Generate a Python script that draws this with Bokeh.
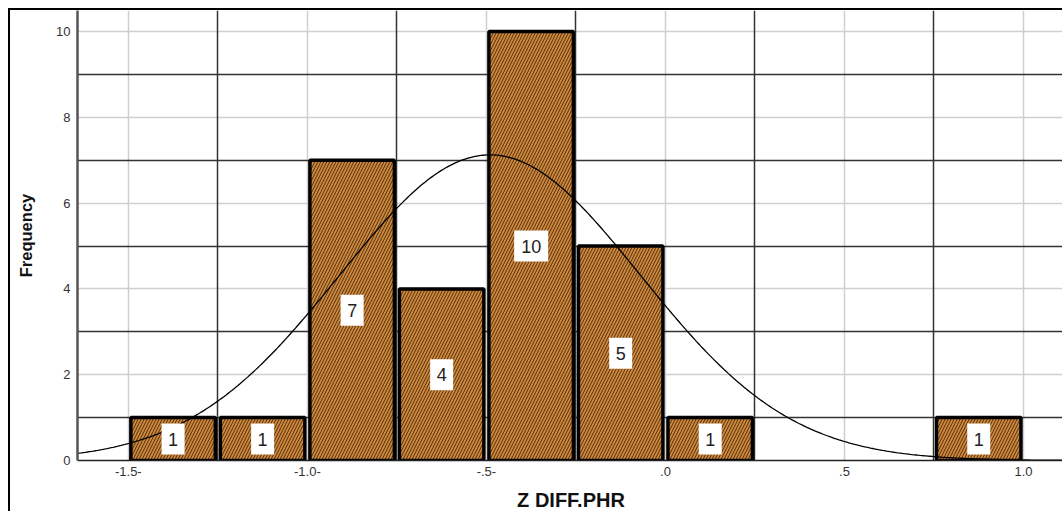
import numpy as np
from bokeh.plotting import figure
from bokeh.models import Range1d, FixedTicker, Grid, ColumnDataSource
from bokeh.core.properties import value
from bokeh.embed import file_html
from bokeh.resources import INLINE

# ---- data ----
bin_left = [-1.5, -1.25, -1.0, -0.75, -0.5, -0.25, 0.0, 0.75]
counts = [1, 1, 7, 4, 10, 5, 1, 1]
bin_width = 0.25
curve_mean = -0.49
curve_sd = 0.42
x_ticks = [-1.5, -1.0, -0.5, 0.0, 0.5, 1.0]
x_tick_labels = ["-1.5-", "-1.0-", "-.5-", ".0", ".5", "1.0"]
minor_x_lines = [-1.25, -0.75, -0.25, 0.25, 0.75]
y_ticks = [0, 2, 4, 6, 8, 10]
minor_y_lines = [1, 3, 5, 7, 9]
x_label = "Z DIFF.PHR"
y_label = "Frequency"

FONT = "Liberation Sans"
X_MIN, X_MAX = -1.642, 1.1145
Y_MIN, Y_MAX = 0, 10.49

centers = [b + bin_width / 2 for b in bin_left]
labels = [str(c) for c in counts]
bar_src = ColumnDataSource(dict(
    x=centers, top=counts, ymid=[c / 2 for c in counts], label=labels,
    boxw=[12 + 11 * len(s) for s in labels],
))

n_total = sum(counts)
xs = np.linspace(X_MIN, X_MAX, 500)
ys = n_total * bin_width / (curve_sd * np.sqrt(2 * np.pi)) * np.exp(-0.5 * ((xs - curve_mean) / curve_sd) ** 2)

p = figure(width=1054, height=503, x_range=Range1d(X_MIN, X_MAX), y_range=Range1d(Y_MIN, Y_MAX),
           output_backend="svg", toolbar_location=None, title=None,
           min_border_left=67, min_border_right=0, min_border_top=0, min_border_bottom=53)
p.outline_line_color = None
p.background_fill_color = "white"
p.border_fill_color = "white"
p.styles = {"margin-left": "8px", "margin-top": "8px",
            "border-left": "2px solid black", "border-top": "2px solid black"}

# grids
p.xgrid.ticker = FixedTicker(ticks=x_ticks)
p.ygrid.ticker = FixedTicker(ticks=y_ticks)
for g in (p.xgrid, p.ygrid):
    g.grid_line_color = "#cfcfcf"
    g.grid_line_width = 1.5
p.add_layout(Grid(dimension=0, ticker=FixedTicker(ticks=minor_x_lines), grid_line_color="#333333", grid_line_width=1.5))
p.add_layout(Grid(dimension=1, ticker=FixedTicker(ticks=minor_y_lines), grid_line_color="#333333", grid_line_width=1.3))

# axes
p.xaxis.ticker = FixedTicker(ticks=x_ticks)
p.xaxis.major_label_overrides = {t: l for t, l in zip(x_ticks, x_tick_labels)}
p.yaxis.ticker = FixedTicker(ticks=y_ticks)
for ax in (p.xaxis, p.yaxis):
    ax.major_tick_line_color = None
    ax.minor_tick_line_color = None
    ax.major_tick_out = 0
    ax.major_tick_in = 0
    ax.minor_tick_out = 0
    ax.minor_tick_in = 0
    ax.major_label_text_font = FONT
    ax.major_label_text_font_size = "13px"
    ax.major_label_text_color = "#333333"
    ax.axis_label_text_font = FONT
    ax.axis_label_text_font_style = "bold"
    ax.axis_label_text_color = "#111111"
p.xaxis.axis_line_color = "#222222"
p.xaxis.axis_line_width = 1.5
p.xaxis.major_label_standoff = 6
p.xaxis.axis_label = x_label
p.xaxis.axis_label_text_font_size = "20px"
p.xaxis.axis_label_standoff = 10
p.yaxis.axis_line_color = "#555555"
p.yaxis.axis_line_width = 2.5
p.yaxis.major_label_standoff = 7
p.yaxis.axis_label = y_label
p.yaxis.axis_label_text_font_size = "16.5px"
p.yaxis.axis_label_standoff = 18

# bars
p.vbar(x="x", top="top", bottom=0, width=0.236, source=bar_src,
       fill_color="#cc8438", line_color="black", line_width=3.5,
       hatch_pattern="right_diagonal_line", hatch_color="#2a1a0a", hatch_alpha=0.9,
       hatch_scale=6, hatch_weight=0.8)

# normal curve
p.line(xs, ys, line_color="black", line_width=1.3)

# count labels
p.rect(x="x", y="ymid", width="boxw", height=31, width_units="screen", height_units="screen",
       source=bar_src, fill_color="white", line_color=None)
p.text(x="x", y="ymid", text="label", source=bar_src, text_align="center", text_baseline="middle",
       text_font=value(FONT), text_font_size="18px", text_color="#222222")

open("out.html", "w").write(file_html(p, INLINE))
